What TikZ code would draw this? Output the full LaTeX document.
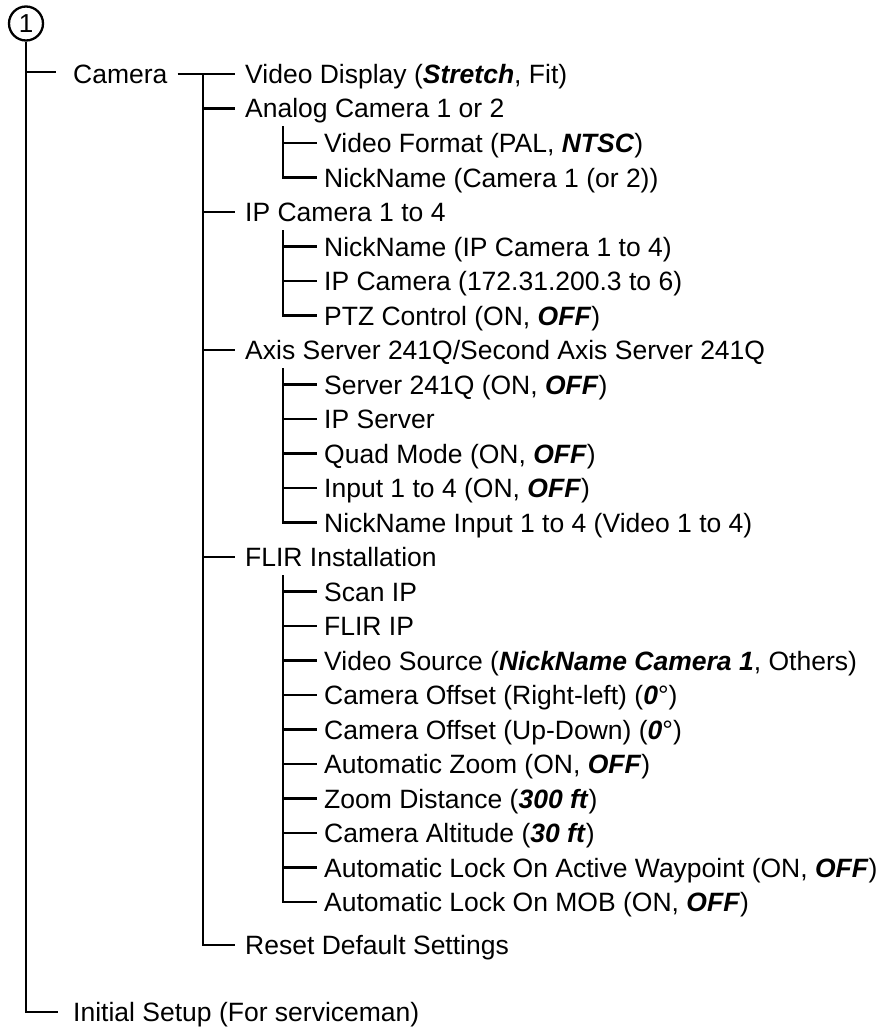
\documentclass[tikz,border=0pt]{standalone}
\usepackage{fontspec}
\setmainfont{Liberation Sans}
\usetikzlibrary{calc}
\newcommand{\bfit}[1]{\textbf{\textit{#1}}}
\begin{document}
\begin{tikzpicture}[x=1pt,y=-1pt,
  lbl/.style={anchor=west, inner sep=0pt, text height=19pt, text depth=0pt, font=\fontsize{26.5}{31}\selectfont},
  conn/.style={line width=2.8pt, line join=miter}]
\useasboundingbox (0,0) rectangle (882,1027);
% columns
\coordinate (v1) at (26,0);
\coordinate (v2) at (203,0);
\coordinate (v3) at (283,0);
% root
\node[draw, circle, line width=2.3pt, minimum size=34pt, inner sep=0pt, font=\fontsize{26}{30}\selectfont] (top) at (26,23.5) {1};
% level 1
\node[lbl] (cam) at (73,74) {Camera};
\node[lbl] (init) at (73,1012) {Initial Setup (For serviceman)};
% level 2
\node[lbl] (vd) at (245,74) {Video Display (\bfit{Stretch}, Fit)};
\node[lbl] (an) at (245,108.5) {Analog Camera 1 or 2};
\node[lbl] (ip) at (245,212) {IP Camera 1 to 4};
\node[lbl] (ax) at (245,350) {Axis Server 241Q/Second Axis Server 241Q};
\node[lbl] (fl) at (245,557) {FLIR Installation};
\node[lbl] (reset) at (245,945) {Reset Default Settings};
% level 3
\node[lbl] (a1) at (324,143) {Video Format (PAL, \bfit{NTSC})};
\node[lbl] (a2) at (324,177.5) {NickName (Camera 1 (or 2))};
\node[lbl] (i1) at (324,246.5) {NickName (IP Camera 1 to 4)};
\node[lbl] (i2) at (324,281) {IP Camera (172.31.200.3 to 6)};
\node[lbl] (i3) at (324,315.5) {PTZ Control (ON, \bfit{OFF})};
\node[lbl] (x1) at (324,384.5) {Server 241Q (ON, \bfit{OFF})};
\node[lbl] (x2) at (324,419) {IP Server};
\node[lbl] (x3) at (324,453.5) {Quad Mode (ON, \bfit{OFF})};
\node[lbl] (x4) at (324,488) {Input 1 to 4 (ON, \bfit{OFF})};
\node[lbl] (x5) at (324,522.5) {NickName Input 1 to 4 (Video 1 to 4)};
\node[lbl] (f1) at (324,591.5) {Scan IP};
\node[lbl] (f2) at (324,626) {FLIR IP};
\node[lbl] (f3) at (324,660.5) {Video Source (\bfit{NickName Camera 1}, Others)};
\node[lbl] (f4) at (324,695) {Camera Offset (Right-left) (\bfit{0}°)};
\node[lbl] (f5) at (324,729.5) {Camera Offset (Up-Down) (\bfit{0}°)};
\node[lbl] (f6) at (324,764) {Automatic Zoom (ON, \bfit{OFF})};
\node[lbl] (f7) at (324,798.5) {Zoom Distance (\bfit{300 ft})};
\node[lbl] (f8) at (324,833) {Camera Altitude (\bfit{30 ft})};
\node[lbl] (f9) at (324,867.5) {Automatic Lock On Active Waypoint (ON, \bfit{OFF})};
\node[lbl] (f10) at (324,902) {Automatic Lock On MOB (ON, \bfit{OFF})};
% level 1 connectors
\draw[conn] (top.south) |- ([xshift=-15pt]init.west);
\draw[conn] ($(v1 |- cam.west)+(0,-2)$) -- ($(cam.west)+(-17,-2)$);
% camera to level 2
\draw[conn] ([xshift=10pt]cam.east) -- ([xshift=-10pt]vd.west);
\draw[conn] (v2 |- vd.west) |- ([xshift=-10pt]reset.west);
\foreach \n in {an,ip,ax,fl}
  \draw[conn] (v2 |- \n.west) -- ([xshift=-10pt]\n.west);
% level 3 groups
\draw[conn] ($(v3 |- an.west)+(0,18)$) |- ([xshift=-7pt]a2.west);
\draw[conn] (v3 |- a1.west) -- ([xshift=-7pt]a1.west);
\draw[conn] ($(v3 |- ip.west)+(0,18)$) |- ([xshift=-7pt]i3.west);
\foreach \n in {i1,i2}
  \draw[conn] (v3 |- \n.west) -- ([xshift=-7pt]\n.west);
\draw[conn] ($(v3 |- ax.west)+(0,18)$) |- ([xshift=-7pt]x5.west);
\foreach \n in {x1,x2,x3,x4}
  \draw[conn] (v3 |- \n.west) -- ([xshift=-7pt]\n.west);
\draw[conn] ($(v3 |- fl.west)+(0,18)$) |- ([xshift=-7pt]f10.west);
\foreach \n in {f1,f2,f3,f4,f5,f6,f7,f8,f9}
  \draw[conn] (v3 |- \n.west) -- ([xshift=-7pt]\n.west);
\end{tikzpicture}
\end{document}
